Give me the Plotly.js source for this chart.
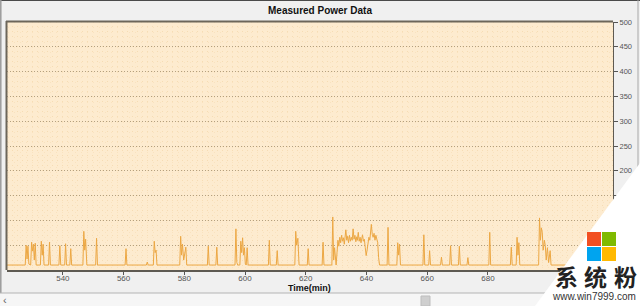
<!DOCTYPE html>
<html>
<head>
<meta charset="utf-8">
<script src="https://cdn.plot.ly/plotly-3.0.1.min.js"></script>
<style>html,body{margin:0;padding:0;background:#f0f0f0;}#chart{width:640px;height:306px;}</style>
</head>
<body>
<div id="chart"></div>
<script>
// ---- data (time in minutes, measured power) ----
const time = [
  521.6,
  527.6, 527.9, 528.2, 528.5, 528.8,
  529.4, 529.7, 530.0, 530.3, 530.6, 530.9, 531.2,
  532.6, 532.9, 533.2, 533.5, 533.8,
  535.3, 535.6, 535.9,
  538.7, 539.0, 539.3,
  540.6, 540.9, 541.2,
  542.3, 542.6, 542.9,
  546.6, 546.9, 547.2, 547.5, 547.9,
  550.8, 551.1, 551.4,
  560.5, 560.8, 561.1,
  567.5, 567.8, 568.1,
  569.8, 570.1, 570.4, 570.7, 571.0,
  578.5, 578.8, 579.1, 579.4, 579.8, 580.5, 580.8,
  587.6, 587.9, 588.2,
  590.4, 590.7, 591.0,
  596.7, 597.0, 597.3, 597.6,
  598.3, 598.6, 598.9, 599.2, 599.5, 599.8, 600.1, 600.4, 600.7, 601.0,
  607.7, 608.0, 608.3,
  610.3, 610.6, 610.9,
  616.4, 616.7, 617.0, 617.4, 617.8,
  620.5, 620.8, 621.1,
  625.4, 625.7, 626.0,
  628.6, 628.9, 629.2, 629.5, 629.8, 630.0,
  630.3, 630.6, 630.9, 631.2, 631.5, 631.8, 632.1, 632.4, 632.7, 633.0,
  633.2, 633.5, 633.8, 634.1, 634.4, 634.7, 635.0, 635.3, 635.6, 635.9,
  636.2, 636.5, 636.8, 637.0, 637.3, 637.6, 637.9, 638.2, 638.5, 638.7,
  639.0, 639.3, 639.6, 639.9, 640.2, 640.5, 640.8, 641.1, 641.4, 641.6,
  641.9, 642.2, 642.5, 642.8, 643.1, 643.4, 643.7, 644.0, 644.3,
  646.8, 647.1, 647.4,
  650.0, 650.3, 650.6, 650.9, 651.2,
  658.6, 658.9, 659.2,
  660.5, 660.8, 661.1,
  664.4, 664.7, 665.0,
  667.4, 667.7, 668.0,
  670.3, 670.6, 670.9,
  673.1, 673.4, 673.7,
  680.3, 680.6, 680.9,
  687.4, 687.7, 688.0,
  689.3, 689.6, 689.9, 690.2, 690.5,
  696.7, 697.0, 697.3, 697.6, 697.9, 698.2, 698.6, 698.9, 699.2, 699.6, 700.0, 700.5, 700.8,
  721.2
];
const power = [
  10,
  10, 50, 22, 48, 12,
  10, 56, 38, 52, 20, 54, 10,
  10, 58, 30, 52, 10,
  10, 56, 10,
  10, 49, 10,
  10, 53, 10,
  10, 43, 10,
  10, 78, 40, 62, 10,
  10, 64, 10,
  10, 43, 10,
  10, 16, 10,
  10, 58, 35, 40, 10,
  10, 68, 30, 52, 20, 46, 10,
  10, 48, 10,
  10, 46, 10,
  10, 83, 15, 10,
  10, 58, 35, 65, 30, 45, 12, 10, 45, 10,
  10, 60, 10,
  10, 39, 10,
  10, 78, 50, 64, 10,
  10, 43, 10,
  10, 56, 10,
  10, 107, 20, 45, 15, 10,
  35, 60, 48, 66, 55, 70, 58, 65, 52, 72,
  81, 60, 68, 55, 70, 58, 66, 60, 83, 62,
  70, 57, 67, 60, 76, 58, 66, 55, 64, 71,
  58, 62, 45, 29, 40, 58, 66, 60, 75, 92,
  72, 66, 74, 60, 70, 62, 55, 25, 10,
  10, 86, 10,
  10, 55, 30, 52, 10,
  10, 71, 10,
  10, 39, 10,
  10, 26, 10,
  10, 49, 10,
  10, 48, 10,
  10, 25, 10,
  10, 76, 10,
  10, 46, 10,
  10, 66, 30, 55, 10,
  10, 105, 60, 85, 76, 40, 60, 49, 20, 45, 15, 39, 10,
  10
];
const xTicks = [540, 560, 580, 600, 620, 640, 660, 680];
const yTicks = [0, 50, 100, 150, 200, 250, 300, 350, 400, 450, 500];
// labels under the watermark corner are not visible in the reference
const yTickText = ['', '', '', '150', '200', '250', '300', '350', '400', '450', '500'];
const chartTitle = 'Measured Power Data';
const xTitle = 'Time(min)';

// ---- decoration helpers (pixel -> paper) ----
const L = 7, R = 613, T = 22, B = 270;
const px = x => (x - L) / (R - L);
const py = y => (B - y) / (B - T);
function rectPx(x0, y0, x1, y1, fill, line, lw) {
  return {type:'rect', xref:'paper', yref:'paper', layer:'above',
    x0:px(x0), x1:px(x1), y0:py(y1), y1:py(y0),
    fillcolor:fill, line:{color:line || 'rgba(0,0,0,0)', width: lw || 0}};
}
function linePx(x0, y0, x1, y1, color, w) {
  return {type:'line', xref:'paper', yref:'paper', layer:'above',
    x0:px(x0), x1:px(x1), y0:py(y0), y1:py(y1), line:{color:color, width:w}};
}
const FONT = 'Liberation Sans, Arial, sans-serif';

const trace = {
  x: time, y: power, type: 'scatter', mode: 'lines',
  line: {color: '#eca743', width: 1},
  hoverinfo: 'skip'
};

const shapes = [
  // window frame
  linePx(0, 0.5, 640, 0.5, '#4a4a4a', 1),
  linePx(0.8, 0, 0.8, 293, '#9a9a9a', 1.5),
  linePx(638, 0, 638, 293, '#a8a8a8', 1),
  rectPx(0, 293, 640, 306, '#f6f6f6', null, 0),
  linePx(0, 293, 640, 293, '#b4b4b4', 1),
  rectPx(421, 296, 430, 306, '#cfcfcf', '#bdbdbd', 1),
  // top / left dark frame of plot
  linePx(6, 21.5, 613, 21.5, '#6c665a', 2),
  linePx(6.5, 21, 6.5, 270, '#6c665a', 2),
  // watermark
  {type:'path', xref:'paper', yref:'paper', layer:'above',
   path:'M ' + px(640) + ',' + py(163) + ' L ' + px(535) + ',' + py(306) + ' L ' + px(640) + ',' + py(306) + ' Z',
   fillcolor:'#ffffff', line:{width:0}},
  rectPx(587, 232, 601, 246, '#f25022'),
  rectPx(602, 232, 616, 246, '#7fba00'),
  rectPx(587, 247, 601, 261, '#00a4ef'),
  rectPx(602, 247, 616, 261, '#ffb900')
];

const cjk = 'Noto Sans CJK SC, sans-serif';
const annotations = [
  {xref:'paper', yref:'paper', x:px(309), y:py(287.5), text:'<b>' + xTitle + '</b>', showarrow:false,
   font:{family:FONT, size:9, color:'#111'}, xanchor:'center', yanchor:'middle'},
  {xref:'paper', yref:'paper', x:px(5), y:py(300), text:'‹', showarrow:false,
   font:{family:FONT, size:11, color:'#666'}, xanchor:'center', yanchor:'middle'},
  {xref:'paper', yref:'paper', x:px(566.5), y:py(276), text:'<b>系</b>', showarrow:false,
   font:{family:cjk, size:23, color:'#222'}, xanchor:'center', yanchor:'middle'},
  {xref:'paper', yref:'paper', x:px(595), y:py(276), text:'<b>统</b>', showarrow:false,
   font:{family:cjk, size:23, color:'#222'}, xanchor:'center', yanchor:'middle'},
  {xref:'paper', yref:'paper', x:px(625.5), y:py(276), text:'<b>粉</b>', showarrow:false,
   font:{family:cjk, size:23, color:'#222'}, xanchor:'center', yanchor:'middle'},
  {xref:'paper', yref:'paper', x:px(594), y:py(296), text:'www.win7999.com', showarrow:false,
   font:{family:FONT, size:10, color:'#333'}, xanchor:'center', yanchor:'middle'}
];

const layout = {
  width: 640, height: 306,
  margin: {l: L, r: 640 - R, t: T, b: 306 - B, pad: 0},
  paper_bgcolor: '#f0f0f0',
  plot_bgcolor: '#fdebcf',
  showlegend: false,
  font: {family: FONT, color: '#555'},
  title: {text: '<b>' + chartTitle + '</b>', x: 0.5, xref: 'container', xanchor: 'center',
          y: 1 - 10/306, yref: 'container', yanchor: 'middle',
          font: {family: FONT, size: 10, color: '#111'}},
  xaxis: {
    range: [521.6, 721.2], tickvals: xTicks, ticktext: xTicks.map(String),
    ticks: 'outside', ticklen: 3, tickcolor: '#555', tickwidth: 1,
    ticklabelstandoff: -3,
    tickfont: {family: FONT, size: 8, color: '#555'},
    showline: true, linecolor: '#5e5a52', linewidth: 1.5,
    showgrid: false, zeroline: false, fixedrange: true,
    minor: {dtick: 2, showgrid: true, gridcolor: '#f9e2bf', griddash: '1px,4px', gridwidth: 1}
  },
  yaxis: {
    side: 'right', range: [0, 500], tickvals: yTicks, ticktext: yTickText,
    ticks: 'outside', ticklen: 4, tickcolor: '#555', tickwidth: 1,
    tickfont: {family: FONT, size: 7.5, color: '#555'},
    showline: true, linecolor: '#5e5a52', linewidth: 1,
    showgrid: true, gridcolor: '#b3a080', griddash: '1px,2px', gridwidth: 1,
    zeroline: false, fixedrange: true,
    minor: {dtick: 10, showgrid: true, gridcolor: '#f6dcb3', griddash: '1px,4px', gridwidth: 1}
  },
  shapes: shapes,
  annotations: annotations
};

Plotly.newPlot('chart', [trace], layout, {staticPlot: true, displayModeBar: false});
</script>
</body>
</html>
